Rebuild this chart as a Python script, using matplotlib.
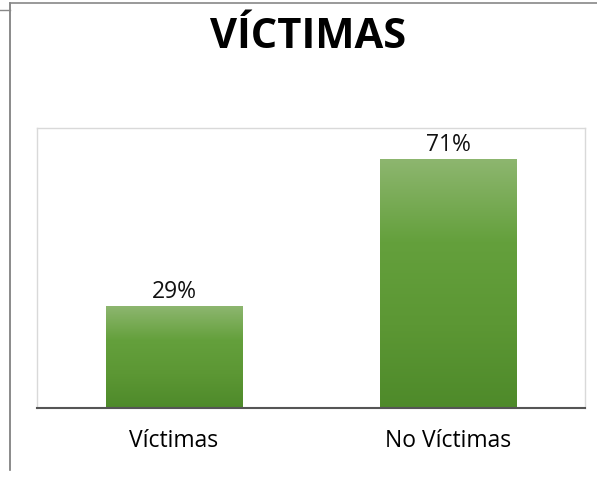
import matplotlib
matplotlib.use("Agg")
import matplotlib.pyplot as plt
import numpy as np
from matplotlib.colors import LinearSegmentedColormap
from matplotlib.lines import Line2D

categories = ["Víctimas", "No Víctimas"]
values = [29, 71]
value_labels = ["29%", "71%"]
title = "VÍCTIMAS"

W, H = 597, 479
fig = plt.figure(figsize=(W / 100, H / 100), dpi=100)
fig.patch.set_facecolor("white")

ax = fig.add_axes([37 / W, 1 - 408 / H, (585 - 37) / W, (408 - 128) / H])
x = np.arange(len(categories))
bars = ax.bar(x, values, width=0.5, color="none", edgecolor="none", zorder=2)

cmap = LinearSegmentedColormap.from_list("g", ["#4e8a2a", "#5c9734", "#64a03c", "#8db66f"])
grad = np.linspace(0, 1, 256).reshape(-1, 1)
for b in bars:
    x0, y0 = b.get_x(), b.get_y()
    w, h = b.get_width(), b.get_height()
    ax.imshow(grad, extent=[x0, x0 + w, y0, y0 + h], origin="lower", aspect="auto",
              cmap=cmap, zorder=2)
for xi, v, lab in zip(x, values, value_labels):
    ax.text(xi, v + 0.6, lab, ha="center", va="bottom", fontsize=16.5,
            family=["Open Sans", "DejaVu Sans"], color="#111111")

ax.set_xlim(-0.5, 1.5)
ax.set_ylim(0, 80)
ax.set_xticks(x)
ax.set_xticklabels(categories, fontsize=16.5, family=["Open Sans", "DejaVu Sans"])
ax.tick_params(axis="x", length=0, pad=15)
ax.set_yticks([])
for s in ["top", "right", "left"]:
    ax.spines[s].set_color("#d9d9d9")
    ax.spines[s].set_linewidth(1.0)
ax.spines["bottom"].set_color("#555555")
ax.spines["bottom"].set_linewidth(1.5)

fig.text(308 / W, 1 - 37 / H, title, ha="center", va="center", fontsize=30,
         fontweight="bold", family=["Open Sans", "DejaVu Sans"], color="#000000")

# outer frame lines
fig.add_artist(Line2D([10 / W, 10 / W], [1 - 3 / H, 1 - 470 / H], color="#777777", lw=1.2))
fig.add_artist(Line2D([10 / W, 1.0], [1 - 3 / H, 1 - 3 / H], color="#888888", lw=1.2))
fig.add_artist(Line2D([0, 10 / W], [1 - 10 / H, 1 - 10 / H], color="#888888", lw=1.0))

fig.savefig("out.png", dpi=100)
